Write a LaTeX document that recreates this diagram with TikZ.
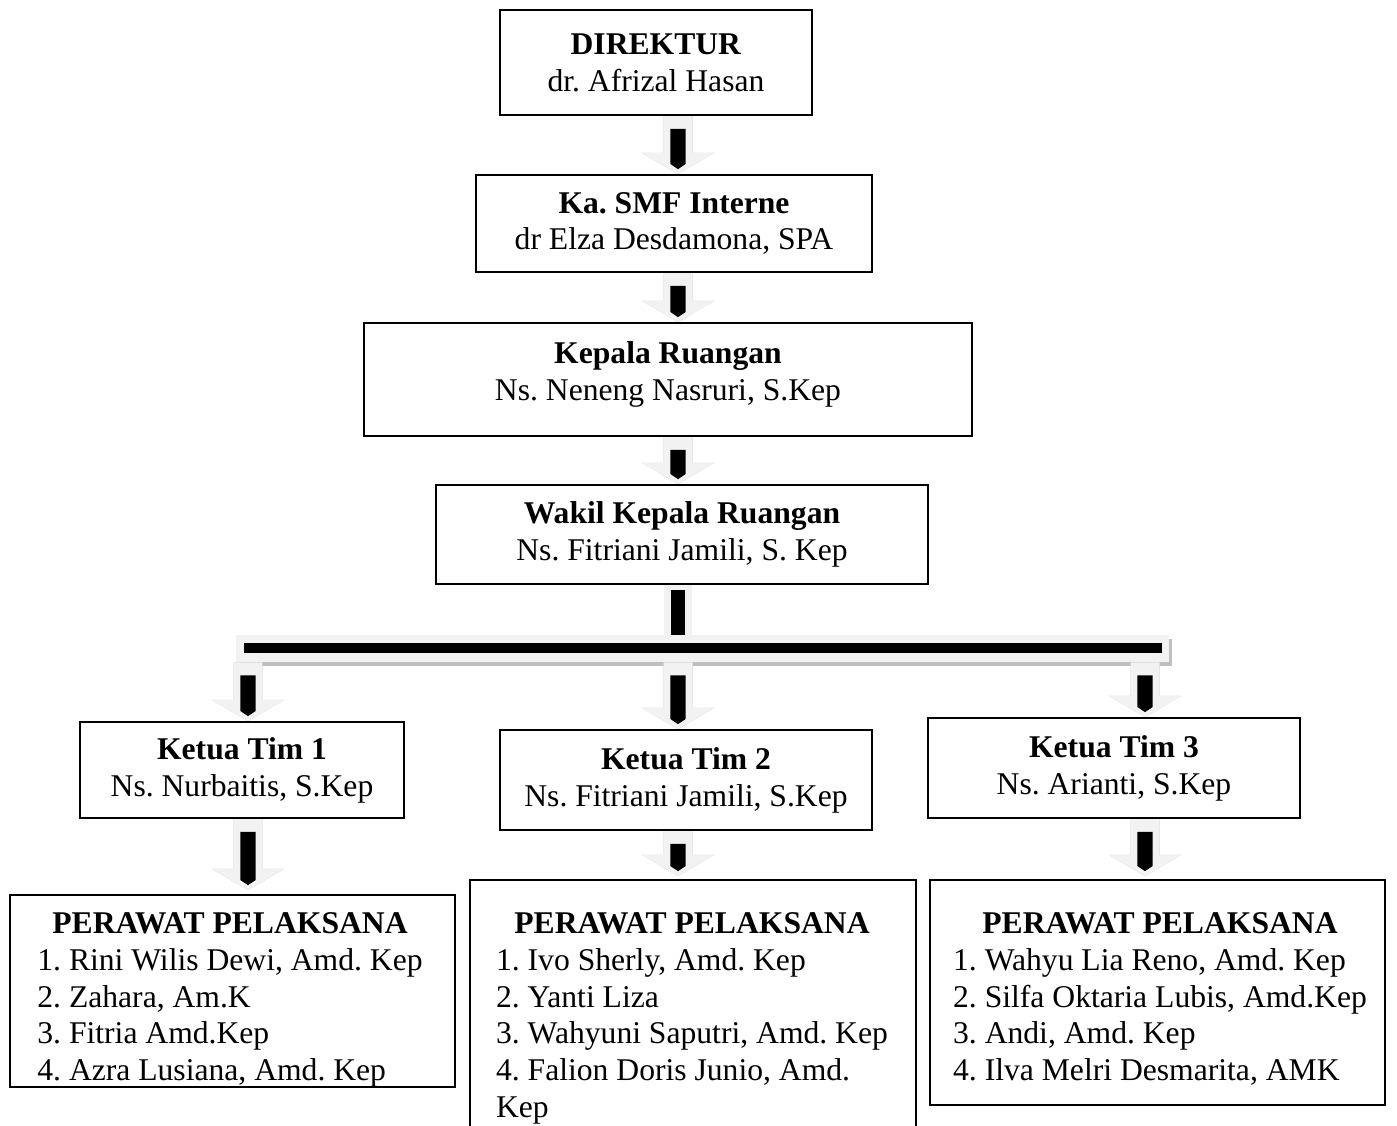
\documentclass[tikz,border=0pt]{standalone}
\usepackage{fontspec}
\setmainfont{Liberation Serif}
\usetikzlibrary{calc,backgrounds}
\definecolor{AbuMuda}{HTML}{F2F2F2}
\definecolor{Bayang}{HTML}{BFBFBF}
\frenchspacing

% panah blok: #1 pangkal (atas), #2 ujung (bawah)
\newcommand{\panah}[2]{%
  \fill[Bayang,shift={(1.7pt,-1.7pt)}] let \p1=(#1), \p2=(#2) in
    (\x1-8.25pt,\y1) -- (\x1+8.25pt,\y1) -- (\x1+8.25pt,\y2+12pt) -- (\x1+20.5pt,\y2+12pt)
    -- (\x1,\y2) -- (\x1-20.5pt,\y2+12pt) -- (\x1-8.25pt,\y2+12pt) -- cycle;
  \fill[AbuMuda] let \p1=(#1), \p2=(#2) in
    (\x1-8.25pt,\y1) -- (\x1+8.25pt,\y1) -- (\x1+8.25pt,\y2+12pt) -- (\x1+20.5pt,\y2+12pt)
    -- (\x1,\y2) -- (\x1-20.5pt,\y2+12pt) -- (\x1-8.25pt,\y2+12pt) -- cycle;
  \fill[black] let \p1=(#1), \p2=(#2) in
    (\x1-4.3pt,\y1-7.4pt) -- (\x1+4.3pt,\y1-7.4pt) -- (\x1+4.3pt,\y2+5.7pt)
    -- (\x1,\y2+2.8pt) -- (\x1-4.3pt,\y2+5.7pt) -- cycle;
}
% tiang tanpa kepala
\newcommand{\tiang}[2]{%
  \fill[Bayang,shift={(1.7pt,-1.7pt)}] let \p1=(#1), \p2=(#2) in
    (\x1-7.7pt,\y1) rectangle (\x1+7.7pt,\y2);
  \fill[AbuMuda] let \p1=(#1), \p2=(#2) in (\x1-7.7pt,\y1) rectangle (\x1+7.7pt,\y2);
  \fill[black] let \p1=(#1), \p2=(#2) in (\x1-3.9pt,\y1-2.8pt) rectangle (\x1+3.9pt,\y2);
}

\begin{document}
\begin{tikzpicture}[x=0.02cm,y=-0.02cm,
    kotak/.style={draw,line width=1.1pt,fill=white,align=center,inner sep=2pt,font=\fontsize{18}{21}\selectfont},
    teks/.style={anchor=north,align=center,inner sep=0pt,font=\fontsize{18}{21}\selectfont},
    palang/.style={fill=AbuMuda,inner sep=0pt}]
  \useasboundingbox (0,0) rectangle (1397,1126);
  \coordinate (kolom) at (678,0);
  \coordinate (kiri) at (248,0);
  \coordinate (kanan) at (1145,0);

  % pimpinan
  \node[kotak,minimum width=6.24cm,minimum height=2.1cm] (dir) at (656,62.5) {\textbf{DIREKTUR}\\dr. Afrizal Hasan};
  \node[kotak,minimum width=7.92cm,minimum height=1.94cm] (smf) at (674,223.5) {\textbf{Ka. SMF Interne}\\dr Elza Desdamona, SPA};
  \node[kotak,minimum width=12.16cm,minimum height=2.26cm] (karu) at (668,379.5) {\textbf{Kepala Ruangan}\\Ns. Neneng Nasruri, S.Kep\rule[-10pt]{0pt}{0pt}};
  \node[kotak,minimum width=9.84cm,minimum height=1.98cm] (wakaru) at (682,534.5) {\textbf{Wakil Kepala Ruangan}\\Ns. Fitriani Jamili, S. Kep};

  % palang pembagi
  \node[palang,minimum width=18.66cm,minimum height=0.54cm] (palang) at (702.5,648.5) {};
  \node[fill=black,inner sep=0pt,minimum width=18.36cm,minimum height=0.2cm] (garis) at (703,648) {};

  % ketua tim
  \node[kotak,minimum width=6.48cm,minimum height=1.92cm] (katim1) at (242,770) {\textbf{Ketua Tim 1}\\Ns. Nurbaitis, S.Kep};
  \node[kotak,minimum width=7.44cm,minimum height=2.0cm] (katim2) at (686,780) {\textbf{Ketua Tim 2}\\Ns. Fitriani Jamili, S.Kep};
  \node[kotak,minimum width=7.44cm,minimum height=2.0cm] (katim3) at (1114,768) {\textbf{Ketua Tim 3}\\Ns. Arianti, S.Kep};

  % perawat pelaksana
  \node[kotak,minimum width=8.9cm,minimum height=3.84cm] (pp1) at (232.5,991) {};
  \node[kotak,minimum width=8.92cm,minimum height=5.4cm] (pp2) at (693,1015) {};
  \node[kotak,minimum width=9.1cm,minimum height=4.5cm] (pp3) at (1157.5,992.5) {};
  \node[teks] (isi1) at (230,912) {\textbf{PERAWAT PELAKSANA}\\
    \begin{tabular}[t]{@{}l@{}}1. Rini Wilis Dewi, Amd. Kep\\2. Zahara, Am.K\\3. Fitria Amd.Kep\\4. Azra Lusiana, Amd. Kep\end{tabular}};
  \node[teks] (isi2) at (692,912) {\textbf{PERAWAT PELAKSANA}\\
    \begin{tabular}[t]{@{}l@{}}1. Ivo Sherly, Amd. Kep\\2. Yanti Liza\\3. Wahyuni Saputri, Amd. Kep\\4. Falion Doris Junio, Amd.\\Kep\end{tabular}};
  \node[teks] (isi3) at (1160,912) {\textbf{PERAWAT PELAKSANA}\\
    \begin{tabular}[t]{@{}l@{}}1. Wahyu Lia Reno, Amd. Kep\\2. Silfa Oktaria Lubis, Amd.Kep\\3. Andi, Amd. Kep\\4. Ilva Melri Desmarita, AMK\end{tabular}};

  \begin{scope}[on background layer]
    \fill[Bayang] ([shift={(1.7pt,-2.3pt)}]palang.south west) rectangle ([shift={(1.7pt,-2.3pt)}]palang.north east);
    \panah{kolom |- dir.south}{kolom |- smf.north}
    \panah{kolom |- smf.south}{kolom |- karu.north}
    \panah{kolom |- karu.south}{kolom |- wakaru.north}
    \tiang{kolom |- wakaru.south}{kolom |- palang.north}
    \panah{kiri |- palang.south}{kiri |- katim1.north}
    \panah{kolom |- palang.south}{kolom |- katim2.north}
    \panah{kanan |- palang.south}{kanan |- katim3.north}
    \panah{kiri |- katim1.south}{$(kiri |- pp1.north)+(0,-4)$}
    \panah{kolom |- katim2.south}{$(kolom |- pp2.north)+(0,-3)$}
    \panah{kanan |- katim3.south}{$(kanan |- pp3.north)+(0,-3)$}
  \end{scope}
\end{tikzpicture}
\end{document}
